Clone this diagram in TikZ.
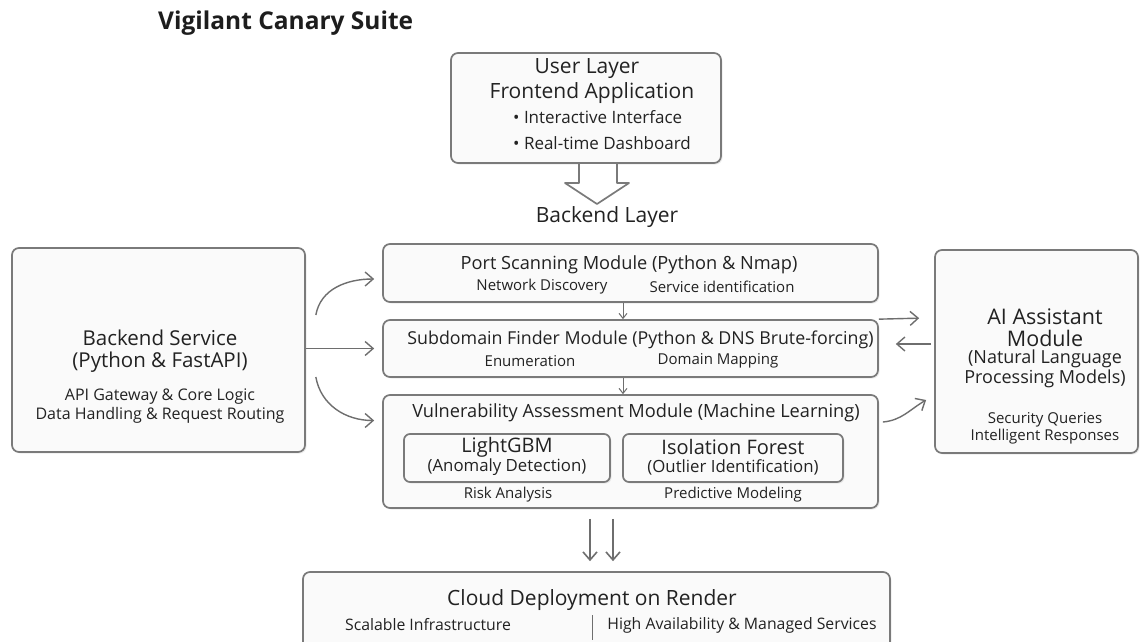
\documentclass[tikz,border=0pt]{standalone}
\usepackage{fontspec}
\setmainfont{Open Sans}
\usetikzlibrary{arrows.meta,shadows}
\definecolor{boxline}{HTML}{7A7A7A}
\definecolor{boxfill}{HTML}{FAFAFA}
\definecolor{arrgray}{HTML}{6E6E6E}
\definecolor{txt}{HTML}{222222}

\begin{document}
\begin{tikzpicture}[x=1pt,y=-1pt,
    box/.style={draw=boxline,line width=1.7pt,fill=boxfill,rounded corners=7pt,inner sep=0pt,
        drop shadow={opacity=0.15,shadow xshift=1.5pt,shadow yshift=-1.5pt}},
    headtext/.style={text=txt,inner sep=0pt,font=\fontsize{18.2}{21}\selectfont},
    subtext/.style={text=txt,inner sep=0pt,font=\fontsize{15}{17}\selectfont},
    arr/.style={draw=arrgray,line width=1.4pt,-{Straight Barb[length=8pt,width=14pt]}},
    smallarr/.style={draw=arrgray,line width=1pt,-{Straight Barb[length=5pt,width=8pt]}}]

    \useasboundingbox[fill=white] (0,0) rectangle (1140,641);

    \node[anchor=west,text=txt!85!black,inner sep=0pt,font=\fontsize{24.5}{28}\selectfont\bfseries] (title) at (158,23) {Vigilant Canary Suite};

    % boxes
    \node[box,minimum width=270pt,minimum height=110pt] (user) at (586,108) {};
    \node[box,minimum width=293pt,minimum height=204pt] (backend) at (158.5,350) {};
    \node[box,minimum width=495pt,minimum height=58pt] (port) at (630.5,273) {};
    \node[box,minimum width=495pt,minimum height=57pt] (sub) at (630.5,348.5) {};
    \node[box,minimum width=495pt,minimum height=113pt] (vuln) at (630.5,451.5) {};
    \node[box,rounded corners=6pt,minimum width=206pt,minimum height=48pt,drop shadow={opacity=0}] (lgbm) at (507,458) {};
    \node[box,rounded corners=6pt,minimum width=220pt,minimum height=48pt,drop shadow={opacity=0}] (iso) at (733,458) {};
    \node[box,minimum width=203pt,minimum height=203pt] (ai) at (1036.5,351.5) {};
    \node[box,minimum width=587pt,minimum height=84pt] (cloud) at (596.5,614) {};

    \draw[draw=boxline,line width=1.7pt,fill=white,line join=round]
        (579,164) -- (579,183) -- (565,183) -- (597,204) -- (629,183) -- (617,183) -- (617,164);

    % texts
    \node[headtext,font=\fontsize{21}{24}\selectfont] (usert) at (587,69) {User Layer};
    \node[headtext,font=\fontsize{21}{24}\selectfont] (front) at (592,93) {Frontend Application};
    \node[subtext,anchor=west,font=\fontsize{17}{20}\selectfont] (ui1) at (513,117) {\textbullet\ Interactive Interface};
    \node[subtext,anchor=west,font=\fontsize{17}{20}\selectfont] (ui2) at (513,143) {\textbullet\ Real-time Dashboard};
    \node[headtext,font=\fontsize{21}{24}\selectfont] (layer) at (607,217) {Backend Layer};

    \node[headtext,font=\fontsize{20.5}{24}\selectfont] (bs1) at (160,338) {Backend Service};
    \node[headtext,font=\fontsize{20.5}{24}\selectfont] (bs2) at (160,362) {(Python \& FastAPI)};
    \node[subtext,font=\fontsize{16}{19}\selectfont] (bs3) at (160,397) {API Gateway \& Core Logic};
    \node[subtext,font=\fontsize{16}{19}\selectfont] (bs4) at (160,415) {Data Handling \& Request Routing};

    \node[headtext] (portt) at (629,265) {Port Scanning Module (Python \& Nmap)};
    \node[subtext] (port1) at (542,287) {Network Discovery};
    \node[subtext] (port2) at (722,287) {Service identification};

    \node[headtext,font=\fontsize{17.8}{21}\selectfont] (subt) at (640.5,340) {Subdomain Finder Module (Python \& DNS Brute-forcing)};
    \node[subtext] (sub1) at (530,361) {Enumeration};
    \node[subtext] (sub2) at (718,361) {Domain Mapping};

    \node[headtext] (vulnt) at (636,413) {Vulnerability Assessment Module (Machine Learning)};
    \node[headtext,font=\fontsize{20}{23}\selectfont] (lg1) at (507,447) {LightGBM};
    \node[subtext,font=\fontsize{16.8}{19}\selectfont] (lg2) at (507,467) {(Anomaly Detection)};
    \node[headtext,font=\fontsize{20}{23}\selectfont] (is1) at (733,447) {Isolation Forest};
    \node[subtext,font=\fontsize{16.8}{19}\selectfont] (is2) at (733,467) {(Outlier Identification)};
    \node[subtext] (risk) at (508,495) {Risk Analysis};
    \node[subtext] (pred) at (733,495) {Predictive Modeling};

    \node[headtext,font=\fontsize{21.5}{24}\selectfont] (ai1) at (1045,317) {AI Assistant};
    \node[headtext,font=\fontsize{21.5}{24}\selectfont] (ai2) at (1045,338) {Module};
    \node[headtext,font=\fontsize{18}{21}\selectfont] (ai3) at (1045,359) {(Natural Language};
    \node[headtext,font=\fontsize{18}{21}\selectfont] (ai4) at (1045,379) {Processing Models)};
    \node[subtext] (ai5) at (1045,420) {Security Queries};
    \node[subtext] (ai6) at (1045,437) {Intelligent Responses};

    \node[headtext,font=\fontsize{21}{24}\selectfont] (cloudt) at (592,600) {Cloud Deployment on Render};
    \node[subtext,font=\fontsize{15.8}{18}\selectfont] (cl1) at (428,625) {Scalable Infrastructure};
    \node[subtext,font=\fontsize{15.8}{18}\selectfont] (cl2) at (742,625) {High Availability \& Managed Services};
    \draw[draw=arrgray,line width=1pt] (592,615) -- (592,640);

    % connectors
    \draw[arr] ([shift={(10,-35)}]backend.east) to[out=80,in=180] ([shift={(-8,6)}]port.west);
    \draw[arr] (backend.east |- sub.west) -- ([xshift=-8pt]sub.west);
    \draw[arr] ([shift={(10,27)}]backend.east) to[out=-80,in=180] ([shift={(-8,-31)}]vuln.west);

    \draw[smallarr] ([xshift=-7.5pt]port.south) -- ([xshift=-7.5pt]sub.north);
    \draw[smallarr] ([xshift=-7.5pt]sub.south) -- ([xshift=-7.5pt]vuln.north);

    \draw[arr] (sub.north east) -- ([shift={(-15,-1)}]ai.west |- sub.north east);
    \draw[arr] ([shift={(-3,-7.5)}]ai.west) -- ([shift={(17,-4.5)}]sub.east);
    \draw[arr] ([shift={(4,-29.5)}]vuln.east) to[out=5,in=-150] ([shift={(-8,48.5)}]ai.west);

    \draw[arr,line width=1.6pt] ([shift={(-40.5,10)}]vuln.south) -- ([xshift=-6.5pt,yshift=10pt]cloud.north);
    \draw[arr,line width=1.6pt] ([shift={(-17.5,10)}]vuln.south) -- ([xshift=16.5pt,yshift=10pt]cloud.north);
\end{tikzpicture}
\end{document}
